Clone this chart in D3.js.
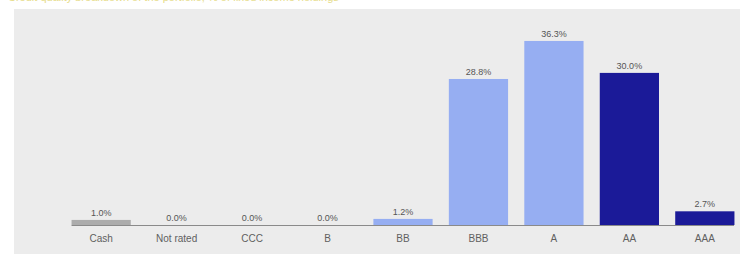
<!DOCTYPE html>
<html>
<head>
<meta charset="utf-8">
<script src="https://cdn.jsdelivr.net/npm/d3@7"></script>
<style>
  body { margin: 0; background: #fff; }
  svg { display: block; font-family: "Liberation Sans", Arial, sans-serif; }
</style>
</head>
<body>
<svg id="chart" width="740" height="254"></svg>
<script>
// chart data
var categories = ["Cash", "Not rated", "CCC", "B", "BB", "BBB", "A", "AA", "AAA"];
var weights = [1.0, 0.0, 0.0, 0.0, 1.2, 28.8, 36.3, 30.0, 2.7];
var value_labels = ["1.0%", "0.0%", "0.0%", "0.0%", "1.2%", "28.8%", "36.3%", "30.0%", "2.7%"];
var groups = ["cash", "none", "none", "none", "low", "low", "low", "high", "high"];

var colors = { cash: "#acacac", none: "#acacac", low: "#96aef2", high: "#1b1a98" };

var svg = d3.select("#chart");
var margin = {top: 22, right: -2, bottom: 29, left: 64};
var width = +svg.attr("width"), height = +svg.attr("height");

// grey panel behind the chart
svg.append("rect")
  .attr("x", 14).attr("y", 9)
  .attr("width", width - 14).attr("height", height - 9)
  .attr("fill", "#ececec");

// title, mostly cut off at the top edge as in the source image
svg.append("text")
  .attr("x", 8).attr("y", 1)
  .attr("font-size", 11)
  .attr("fill", "#e6dc8a")
  .text("Credit quality breakdown of the portfolio, % of fixed income holdings");

var x = d3.scaleBand()
  .domain(categories)
  .range([margin.left, width - margin.right])
  .paddingInner(0.215)
  .paddingOuter(0.1);

var y = d3.scaleLinear()
  .domain([0, 40])
  .range([height - margin.bottom, height - margin.bottom - 5.07 * 40]);

var data = categories.map(function(c, i) {
  return {cat: c, value: weights[i], label: value_labels[i], group: groups[i]};
});

svg.selectAll("rect.bar")
  .data(data)
  .enter()
  .append("rect")
    .attr("class", "bar")
    .attr("x", function(d) { return x(d.cat); })
    .attr("y", function(d) { return y(d.value); })
    .attr("width", x.bandwidth())
    .attr("height", function(d) { return y(0) - y(d.value); })
    .attr("fill", function(d) { return colors[d.group]; });

// baseline
svg.append("line")
  .attr("x1", x(categories[0])).attr("x2", width - 6)
  .attr("y1", y(0) + 0.5).attr("y2", y(0) + 0.5)
  .attr("stroke", "#8a8a8a").attr("stroke-width", 1);

// value labels
svg.selectAll("text.val")
  .data(data)
  .enter()
  .append("text")
    .attr("class", "val")
    .attr("x", function(d) { return x(d.cat) + x.bandwidth() / 2; })
    .attr("y", function(d) { return y(d.value) - 4; })
    .attr("text-anchor", "middle")
    .attr("font-size", 9)
    .attr("fill", "#555")
    .text(function(d) { return d.label; });

// category axis
var xAxis = svg.append("g")
  .attr("transform", "translate(0," + y(0) + ")")
  .call(d3.axisBottom(x).tickSize(0).tickPadding(10));
xAxis.select(".domain").remove();
xAxis.selectAll("text")
  .attr("font-size", 10)
  .attr("font-family", "Liberation Sans, Arial, sans-serif")
  .attr("fill", "#606060");
</script>
</body>
</html>
